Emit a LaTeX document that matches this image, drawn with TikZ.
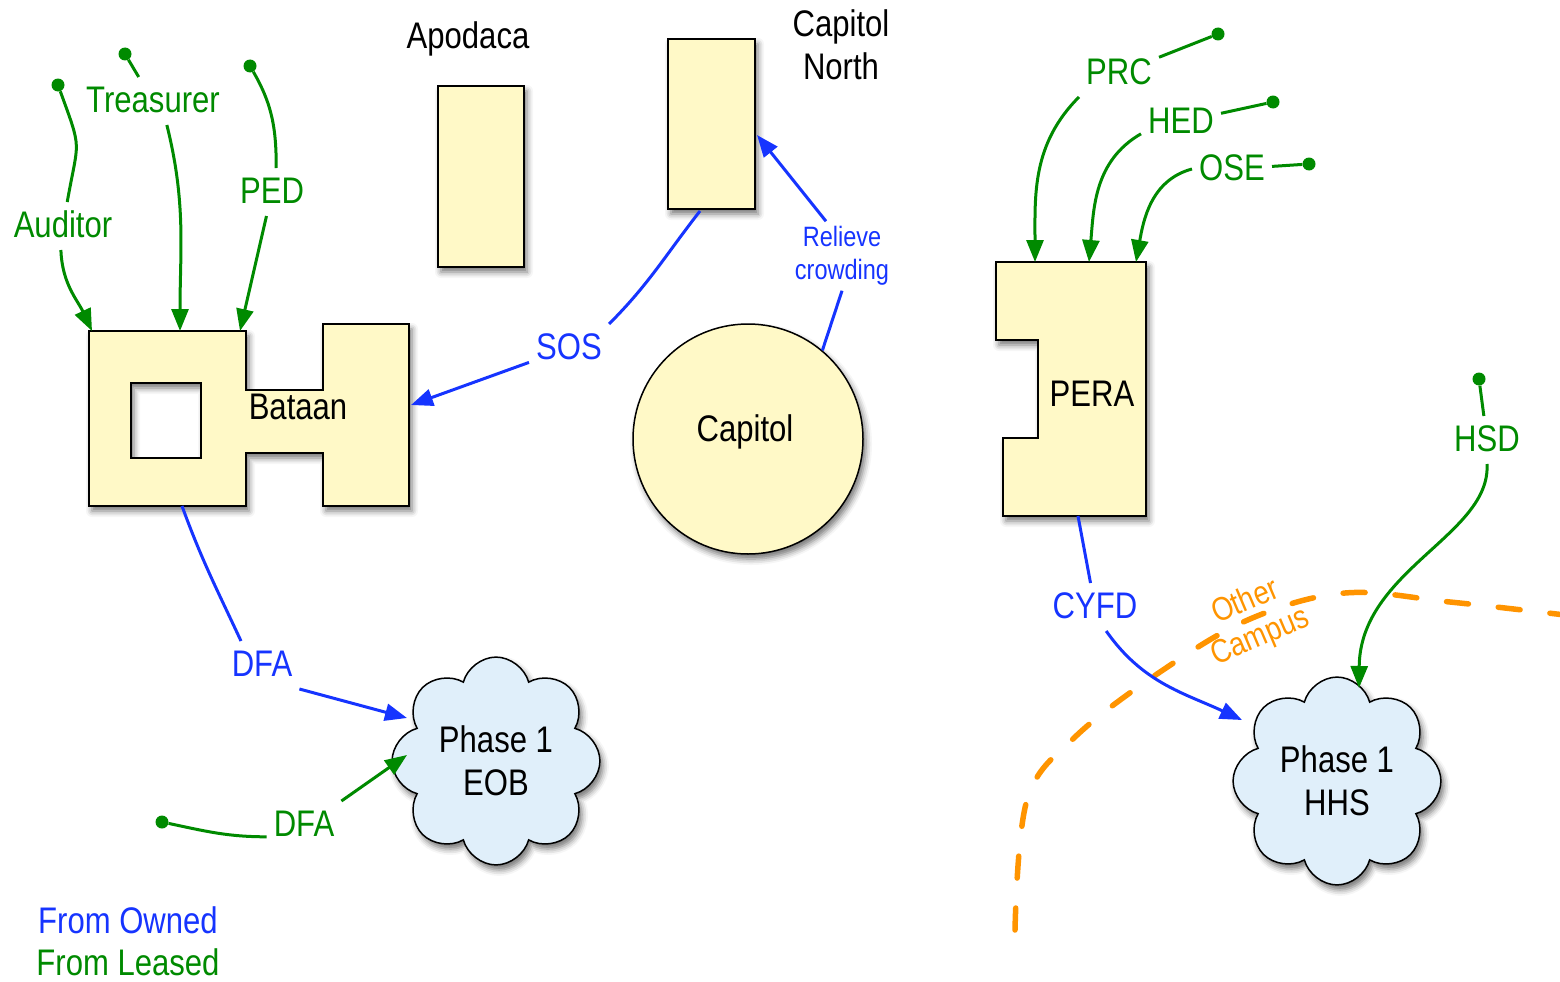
\documentclass[tikz,border=0pt]{standalone}
\usepackage{fontspec}
\setmainfont{Liberation Sans}[FakeStretch=0.84]
\usetikzlibrary{
  positioning, arrows.meta,
  shapes.symbols, shadows.blur
}
\definecolor{bldgyellow}{RGB}{255,249,199}
\definecolor{cloudblue}{RGB}{224,239,250}
\definecolor{ownblue}{RGB}{22,52,255}
\definecolor{leasegreen}{RGB}{0,138,0}
\definecolor{campusorange}{RGB}{255,148,0}
\newcommand{\bigfont}{\fontsize{37}{43}\selectfont}
\newcommand{\notefont}{\fontsize{28}{33}\selectfont}
\newcommand{\campusfont}{\fontsize{33}{38}\selectfont}

\tikzset{
  bshadow/.style={blur shadow={shadow xshift=3pt, shadow yshift=-5pt,
      shadow blur radius=6pt, shadow opacity=55}},
  bldg/.style={draw, line width=1.5pt, fill=bldgyellow, bshadow},
  puff/.style={cloud, cloud puffs=8, aspect=1, draw, line width=1.5pt,
      fill=cloudblue, bshadow, minimum width=198pt, minimum height=198pt,
      align=center, font=\bigfont},
  txt/.style={font=\bigfont, inner sep=0pt, text height=26.6pt, text depth=3pt},
  lbl/.style={font=\bigfont, inner xsep=7pt, inner ysep=9pt,
      text height=26.6pt, text depth=3pt},
  srcdot/.style={circle, fill, inner sep=0pt, minimum size=13pt},
  lease/.style={leasegreen, line width=3pt},
  own/.style={ownblue, line width=3pt},
  arrowed/.style={-{Triangle[length=22pt,width=17pt]}},
  campus/.style={campusorange, line width=5.5pt, line cap=round,
      dash pattern=on 22pt off 30pt}
}

\begin{document}
\begin{tikzpicture}[x=1pt, y=1pt]
  \useasboundingbox (0,0) rectangle (1560,-982);

  % buildings
  \path[bldg, even odd rule] (89,-331) -- (246,-331) -- (246,-390) -- (323,-390)
    -- (323,-324) -- (409,-324) -- (409,-506) -- (323,-506) -- (323,-453)
    -- (246,-453) -- (246,-506) -- (89,-506) -- cycle
    (131,-383) rectangle (201,-458);
  \node[txt] (bataan) at (298,-408) {Bataan};
  \coordinate (batN1) at (92,-331);
  \coordinate (batN2) at (180,-331);
  \coordinate (batN3) at (240,-331);
  \coordinate (batE) at (411,-405);
  \coordinate (batS) at (182,-506);

  \node[bldg, minimum width=86pt, minimum height=181pt, inner sep=0pt] (apodaca) at (481,-176.5) {};
  \node[txt] (apodacaT) at (468,-37) {Apodaca};

  \node[bldg, minimum width=87pt, minimum height=170pt, inner sep=0pt] (capN) at (711.5,-124) {};
  \node[font=\bigfont, align=center, inner sep=0pt] (capNT) at (841,-45) {Capitol\\North};
  \coordinate (capNs) at (700,-211);
  \coordinate (capNe) at (757,-135);

  \node[bldg, circle, minimum size=230pt, inner sep=0pt] (capitol) at (748,-439) {};
  \node[txt] (capitolT) at (745,-430) {Capitol};

  \path[bldg] (996,-262) -- (1146,-262) -- (1146,-516) -- (1003,-516) -- (1003,-438)
    -- (1038,-438) -- (1038,-340) -- (996,-340) -- cycle;
  \node[txt] (pera) at (1092,-395) {PERA};
  \coordinate (peraN1) at (1035,-262);
  \coordinate (peraN2) at (1089,-262);
  \coordinate (peraN3) at (1136,-262);
  \coordinate (peraS) at (1078,-516);

  \node[puff] (eob) at (496,-761) {Phase 1\\EOB};
  \node[puff] (hhs) at (1337,-781) {Phase 1\\HHS};
  \coordinate (eobW1) at (407,-718);
  \coordinate (eobW2) at (407,-755);
  \coordinate (hhsW) at (1242,-720);
  \coordinate (hhsN) at (1359,-688);

  % other campus line
  \draw[campus] plot[smooth, tension=0.6] coordinates {(1015,-930) (1027,-800)
    (1075,-737) (1160,-672) (1250,-619) (1345,-593) (1450,-602) (1565,-615)};
  \node[font=\campusfont, campusorange, align=center, rotate=23, inner sep=0pt]
    (other) at (1253,-620) {Other\\Campus};

  % leased moves
  \node[srcdot, leasegreen] (audS) at (58,-85) {};
  \node[lbl, leasegreen] (aud) at (63,-226) {Auditor};
  \draw[lease] (audS) to[out=-70, in=80, looseness=1.5] (aud.80);
  \draw[lease, arrowed] (aud.-95) to[out=-88, in=115] (batN1);

  \node[srcdot, leasegreen] (treS) at (125,-54) {};
  \node[lbl, leasegreen] (tre) at (153,-101) {Treasurer};
  \draw[lease] (treS) -- (tre);
  \draw[lease, arrowed] (tre.-60) to[out=-76, in=90] (batN2);

  \node[srcdot, leasegreen] (pedS) at (250,-66) {};
  \node[lbl, leasegreen] (ped) at (272,-192) {PED};
  \draw[lease] (pedS) to[out=-60, in=90] (ped.80);
  \draw[lease, arrowed] (ped) -- (batN3);

  \node[srcdot, leasegreen] (dfaLS) at (162,-822) {};
  \node[lbl, leasegreen] (dfaL) at (304,-825) {DFA};
  \draw[lease] (dfaLS) to[out=-12, in=180] (dfaL.base west);
  \draw[lease, arrowed] (dfaL.north east) -- (eobW2);

  \node[srcdot, leasegreen] (prcS) at (1218,-34) {};
  \node[lbl, leasegreen] (prc) at (1119,-73) {PRC};
  \draw[lease] (prcS) -- (prc);
  \draw[lease, arrowed] (prc.south west) to[out=-135, in=90] (peraN1);

  \node[srcdot, leasegreen] (hedS) at (1273,-102) {};
  \node[lbl, leasegreen] (hed) at (1181,-122) {HED};
  \draw[lease] (hedS) -- (hed);
  \draw[lease, arrowed] (hed.base west) to[out=-150, in=85] (peraN2);

  \node[srcdot, leasegreen] (oseS) at (1309,-164) {};
  \node[lbl, leasegreen] (ose) at (1232,-169) {OSE};
  \draw[lease] (oseS) -- (ose);
  \draw[lease, arrowed] (ose.west) to[out=-165, in=80] (peraN3);

  \node[srcdot, leasegreen] (hsdS) at (1479,-379) {};
  \node[lbl, leasegreen] (hsd) at (1487,-440) {HSD};
  \draw[lease] (hsdS) -- (hsd);
  \draw[lease, arrowed] (hsd.south) .. controls (1491,-535) and (1360,-570) .. (hhsN);

  % owned moves
  \node[lbl, ownblue] (sos) at (569,-348) {SOS};
  \draw[own] (capNs) to[out=-128, in=45] (sos.north east);
  \draw[own, arrowed] (sos) -- (batE);

  \node[font=\notefont, ownblue, align=center, inner sep=5pt] (relv) at (842,-256) {Relieve\\crowding};
  \draw[own] (capitol.50) -- (relv.south);
  \draw[own, arrowed] ([xshift=-16pt]relv.north) -- (capNe);

  \node[lbl, ownblue] (dfaO) at (262,-665) {DFA};
  \draw[own] (batS) to[out=-70, in=115] ([xshift=-21pt]dfaO.north);
  \draw[own, arrowed] (dfaO.south east) -- (eobW1);

  \node[lbl, ownblue] (cyfd) at (1095,-607) {CYFD};
  \draw[own] (peraS) -- (cyfd);
  \draw[own, arrowed] (cyfd.-65) to[out=-55, in=155] (hhsW);

  % legend
  \node[txt, ownblue] (owned) at (128,-922) {From Owned};
  \node[txt, leasegreen, below=11.4pt of owned] (leased) {From Leased};
\end{tikzpicture}
\end{document}
